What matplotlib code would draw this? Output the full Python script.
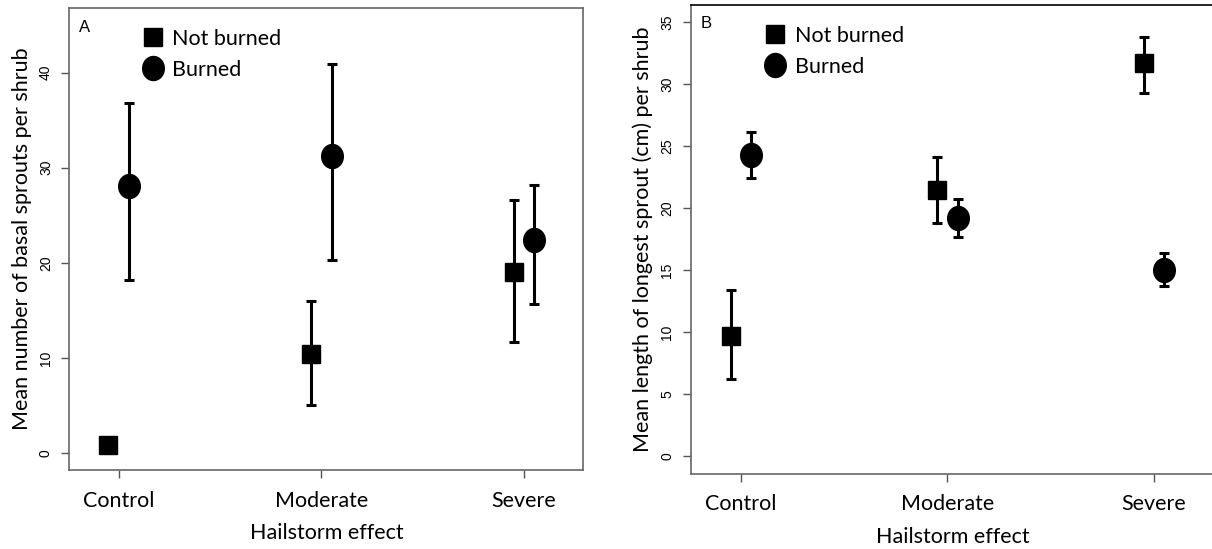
import numpy as np
import matplotlib
matplotlib.use("Agg")
import matplotlib.pyplot as plt
from matplotlib.path import Path
from matplotlib.lines import Line2D
from matplotlib.transforms import Affine2D

# data
groups = ["Control", "Moderate", "Severe"]
series = ["Not burned", "Burned"]

# panel A: mean number of basal sprouts per shrub
a_not_mean = [0.8, 10.4, 19.0]
a_not_low = [0.2, 5.0, 11.7]
a_not_high = [1.5, 16.0, 26.6]
a_burn_mean = [28.1, 31.2, 22.4]
a_burn_low = [18.2, 20.3, 15.7]
a_burn_high = [36.8, 40.9, 28.2]

# panel B: mean length of longest sprout (cm) per shrub
b_not_mean = [9.7, 21.5, 31.7]
b_not_low = [6.2, 18.8, 29.3]
b_not_high = [13.4, 24.1, 33.8]
b_burn_mean = [24.3, 19.2, 15.0]
b_burn_low = [22.4, 17.7, 13.7]
b_burn_high = [26.1, 20.7, 16.4]

body_font = "Lato"
tick_font = "Liberation Sans"
fs = 15.5

# slightly tall ellipse, as in the original
ellipse = Path.unit_circle().transformed(Affine2D().scale(0.9, 1.0))

def draw_panel(ax, nm, nl, nh, bm, bl, bh, ylab, yticks, ylim, letter, xlabpad):
    x = np.arange(1, len(groups) + 1)
    off = 0.05
    ekw = dict(ecolor="black", elinewidth=2.2, capsize=3.8, capthick=2.2, ls="none")
    ax.errorbar(x - off, nm, yerr=[np.subtract(nm, nl), np.subtract(nh, nm)],
                marker="s", ms=13.3, mfc="black", mec="black", **ekw)
    ax.errorbar(x + off, bm, yerr=[np.subtract(bm, bl), np.subtract(bh, bm)],
                marker=ellipse, ms=17.3, mfc="black", mec="black", **ekw)
    ax.set_xlim(0.757, 3.292)
    ax.set_ylim(*ylim)
    ax.set_xticks(x)
    ax.set_xticklabels(groups, fontsize=fs, family=body_font)
    ax.set_yticks(yticks)
    ax.set_yticklabels([str(t) for t in yticks], rotation=90, va="center",
                       fontsize=10, family=tick_font)
    ax.tick_params(axis="both", direction="out", length=5.8, width=1, color="#555555")
    ax.tick_params(axis="x", pad=9)
    ax.tick_params(axis="y", pad=6)
    for s in ax.spines.values():
        s.set_color("#666666")
        s.set_linewidth(1.2)
    ax.set_xlabel("Hailstorm effect", fontsize=fs, family=body_font, labelpad=xlabpad)
    ax.set_ylabel(ylab, fontsize=fs, family=body_font, labelpad=5)
    ax.text(0.018, 0.975, letter, transform=ax.transAxes, ha="left", va="top",
            fontsize=12, family=tick_font)
    handles = [Line2D([], [], ls="none", marker="s", ms=13.3, color="black"),
               Line2D([], [], ls="none", marker=ellipse, ms=17.3, color="black")]
    ax.legend(handles, series, loc="upper left", bbox_to_anchor=(0.141, 0.955),
              frameon=False, handlelength=1.0, handletextpad=0.4, borderpad=0,
              borderaxespad=0, labelspacing=0.5, prop={"family": body_font, "size": fs})

fig = plt.figure(figsize=(12.12, 5.49), dpi=100)
ax1 = fig.add_axes([0.0572, 0.1439, 0.4241, 0.8415])
ax2 = fig.add_axes([0.5699, 0.1372, 0.4320, 0.8543])

draw_panel(ax1, a_not_mean, a_not_low, a_not_high, a_burn_mean, a_burn_low, a_burn_high,
           "Mean number of basal sprouts per shrub", [0, 10, 20, 30, 40], (-1.8, 46.8), "A", 9)
draw_panel(ax2, b_not_mean, b_not_low, b_not_high, b_burn_mean, b_burn_low, b_burn_high,
           "Mean length of longest sprout (cm) per shrub", [0, 5, 10, 15, 20, 25, 30, 35],
           (-1.4, 36.4), "B", 9)
ax2.spines["top"].set_color("black")

fig.savefig("out.png", dpi=100)
